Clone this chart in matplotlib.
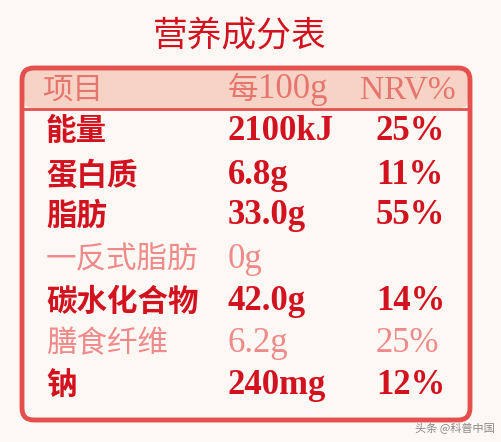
import matplotlib
matplotlib.use("Agg")
import matplotlib.pyplot as plt
from matplotlib.patches import FancyBboxPatch

plt.rcParams["font.family"] = ["Noto Sans CJK SC", "DejaVu Sans"]

title = "营养成分表"
header = ["项目", "每100g", "NRV%"]
items = ["能量", "蛋白质", "脂肪", "一反式脂肪", "碳水化合物", "膳食纤维", "钠"]
amounts = ["2100kJ", "6.8g", "33.0g", "0g", "42.0g", "6.2g", "240mg"]
nrv = ["25%", "11%", "55%", "", "14%", "25%", "12%"]
emphasis = [True, True, True, False, True, False, True]

dark = "#d2121f"
light = "#ef8a8a"
numfont = ["Liberation Serif", "Noto Sans CJK SC"]

fig = plt.figure(figsize=(5.02, 4.42), dpi=100)
fig.patch.set_facecolor("#fdf8f4")
ax = fig.add_axes([0, 0, 1, 1])
ax.set_xlim(0, 502)
ax.set_ylim(442, 0)
ax.axis("off")

ax.text(240, 36, title, color=dark, fontsize=25, ha="center", va="center")

# header band and frame
ax.add_patch(FancyBboxPatch((24, 70), 444, 38, boxstyle="round,pad=0,rounding_size=8",
                            facecolor="#f7d3c6", edgecolor="none"))
ax.add_patch(FancyBboxPatch((22, 68), 448, 352, boxstyle="round,pad=0,rounding_size=12",
                            facecolor="none", edgecolor="#e4504e", linewidth=3.5))
ax.plot([24, 468], [109, 109], color="#e4504e", lw=2)

cols = [42, 228, 360]
ax.text(cols[0], 90, header[0], color="#e7756f", fontsize=22, va="center")
ax.text(cols[1], 90, "每", color="#e7756f", fontsize=22, va="center")
ax.text(cols[1] + 30, 90, header[1][1:], color="#e7756f", fontsize=25,
        va="center", family=numfont)
ax.text(cols[2], 90, header[2], color="#e7756f", fontsize=24, va="center", family=numfont)

row_y = [131, 175, 216, 260, 302, 344, 385]
for y, name, amt, pct, bold in zip(row_y, items, amounts, nrv, emphasis):
    c = dark if bold else light
    w = "bold" if bold else "normal"
    ax.text(cols[0] + 4, y, name, color=c, fontsize=22, fontweight=w, va="center")
    ax.text(cols[1], y, amt, color=c, fontsize=25, fontweight=w, va="center", family=numfont)
    ax.text(cols[2] + 16, y, pct, color=c, fontsize=25, fontweight=w, va="center", family=numfont)

ax.text(495, 428, "头条 @科普中国", color="#888888", fontsize=8, ha="right", va="center")

fig.savefig("out.png", dpi=100, facecolor=fig.get_facecolor())
